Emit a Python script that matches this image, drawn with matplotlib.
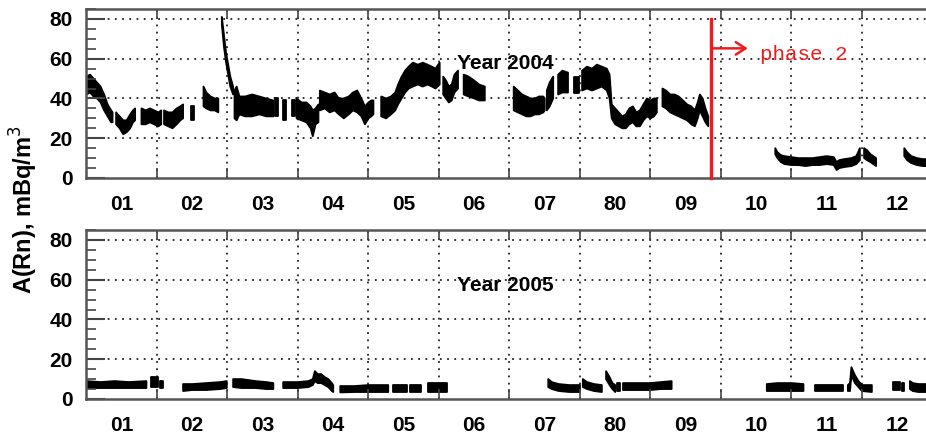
import numpy as np
import matplotlib
matplotlib.use("Agg")
import matplotlib.pyplot as plt
from matplotlib.ticker import MultipleLocator, FixedLocator

nan = np.nan

month_labels = ['01', '02', '03', '04', '05', '06', '07', '80', '09', '10', '11', '12']

# Radon activity envelopes (lower / upper edge of the hourly band), x in months,
# nan marks a gap in the record
months_2004 = [0.00, 0.05, 0.10, 0.15, 0.20, 0.25, 0.30, 0.35, 0.37, nan,
               0.42, 0.47, 0.52, 0.57, 0.62, 0.66, 0.69, nan,
               0.78, 0.84, 0.90, 0.96, 1.02, 1.06, nan,
               1.10, 1.16, 1.22, 1.28, 1.33, 1.37, nan,
               1.48, 1.52, nan,
               1.66, 1.70, 1.76, 1.82, 1.87, nan,
               1.92, 1.95, 1.98, 2.01, 2.04, 2.08, nan,
               2.10, 2.13, 2.17, 2.25, 2.35, 2.45, 2.55, 2.65, nan,
               2.68, 2.72, nan, 2.79, 2.83, nan, 2.91, 2.96, nan,
               2.98, 3.05, 3.12, 3.18, 3.21, 3.25, 3.29, nan,
               3.31, 3.38, 3.45, 3.52, 3.58, 3.65, 3.72, 3.78, 3.84, 3.90, 3.95, 4.00, 4.04, 4.07, nan,
               4.18, 4.25, 4.32, 4.38, 4.42, 4.47, 4.52, 4.57, 4.63, 4.70, 4.77, 4.84, 4.90, 4.95, 5.01, nan,
               5.06, 5.10, 5.14, 5.18, 5.22, 5.27, nan,
               5.35, 5.42, 5.50, 5.57, 5.65, nan,
               6.06, 6.12, 6.18, 6.24, 6.30, 6.36, 6.42, 6.48, 6.50, nan,
               6.53, 6.57, 6.62, nan,
               6.69, 6.75, 6.83, nan,
               6.92, 6.98, nan,
               7.03, 7.10, 7.17, 7.24, 7.31, 7.38, 7.42, 7.45, 7.50, 7.55, 7.60, 7.65, 7.70, 7.75,
               7.80, 7.85, 7.90, 7.95, 8.00, 8.05, 8.09, nan,
               8.17, 8.22, 8.28, 8.34, 8.40, 8.46, 8.52, 8.58, 8.63, 8.67, 8.70, 8.74, 8.78, 8.82, nan,
               9.77, 9.80, 9.85, 9.90, 10.0, 10.1, 10.2, 10.3, 10.4, 10.5, 10.6, 10.64, 10.68, 10.75,
               10.85, 10.92, 10.97, nan,
               11.03, 11.07, 11.12, 11.16, 11.20, nan,
               11.60, 11.64, 11.70, 11.78, 11.86, 11.94, 12.0]
low_2004 = [42, 43, 41, 40, 38, 34, 31, 28, 28, nan,
            27, 25, 22, 23, 25, 28, 29, nan,
            27, 27, 28, 27, 26, 27, nan,
            27, 26, 25, 27, 29, 30, nan,
            29, 29, nan,
            36, 35, 34, 34, 33, nan,
            77, 66, 58, 52, 46, 42, nan,
            30, 29, 32, 31, 31, 32, 31, 31, nan,
            31, 31, nan, 29, 29, nan, 31, 31, nan,
            30, 29, 28, 25, 21, 27, 28, nan,
            34, 35, 33, 34, 32, 30, 32, 34, 33, 31, 27, 30, 31, 32, nan,
            31, 30, 32, 34, 37, 40, 43, 45, 46, 47, 46, 47, 46, 45, 47, nan,
            42, 40, 38, 39, 43, 45, nan,
            42, 41, 40, 39, 39, nan,
            34, 33, 32, 31, 31, 32, 32, 33, 34, nan,
            34, 36, 40, nan,
            42, 43, 43, nan,
            43, 43, nan,
            44, 45, 44, 45, 46, 44, 40, 30, 27, 26, 25, 25, 27, 28,
            26, 26, 29, 31, 30, 31, 33, nan,
            36, 35, 33, 32, 31, 30, 29, 27, 26, 30, 34, 31, 28, 26, nan,
            12, 10, 8, 7, 6.5, 6.5, 6, 6.5, 6.5, 7, 6.5, 4, 5, 5.5,
            6, 7, 9, nan,
            10, 9, 8, 7, 6, nan,
            11, 9, 7.5, 6.5, 6, 6, 6]
high_2004 = [51, 52, 50, 48, 46, 42, 37, 34, 33, nan,
             33, 31, 29, 29, 32, 34, 35, nan,
             35, 34, 35, 34, 33, 34, nan,
             34, 33, 33, 35, 36, 37, nan,
             36, 36, nan,
             46, 43, 41, 40, 40, nan,
             81, 72, 63, 57, 51, 46, nan,
             44, 46, 41, 41, 42, 41, 40, 39, nan,
             40, 40, nan, 39, 39, nan, 39, 39, nan,
             40, 38, 38, 36, 34, 35, 37, nan,
             44, 43, 42, 43, 40, 40, 41, 43, 44, 40, 36, 38, 39, 39, nan,
             41, 40, 41, 43, 47, 51, 54, 56, 58, 57, 58, 57, 56, 55, 58, nan,
             51, 49, 46, 47, 52, 54, nan,
             52, 51, 49, 47, 46, nan,
             46, 44, 42, 41, 40, 40, 41, 41, 40, nan,
             44, 48, 51, nan,
             52, 54, 53, nan,
             51, 51, nan,
             54, 56, 55, 57, 56, 55, 52, 37, 35, 33, 31, 32, 35, 36,
             33, 34, 37, 40, 39, 40, 40, nan,
             45, 44, 42, 42, 41, 39, 37, 36, 34, 38, 42, 40, 35, 31, nan,
             15, 13, 11.5, 11, 10.5, 10, 10, 10, 10.5, 11, 10.5, 8, 9, 9.5,
             10, 11, 15, nan,
             15, 14, 12, 11, 10, nan,
             15, 13, 11, 10, 9.5, 9.5, 9.5]

months_2005 = [0.00, 0.20, 0.40, 0.60, 0.85, nan,
               0.92, 1.02, nan, 1.04, 1.08, nan,
               1.37, 1.50, 1.70, 1.90, 1.99, nan,
               2.08, 2.20, 2.40, 2.55, 2.65, nan,
               2.79, 3.00, 3.15, 3.21, 3.24, 3.28, 3.33, 3.38, 3.43, 3.48, 3.50, nan,
               3.60, 3.80, 4.00, 4.28, nan,
               4.35, 4.54, nan, 4.59, 4.75, nan, 4.85, 5.11, nan,
               6.55, 6.60, 6.70, 6.85, 7.00, nan,
               7.04, 7.10, 7.20, 7.31, nan,
               7.37, 7.42, 7.46, 7.50, nan,
               7.52, 7.57, nan,
               7.61, 7.80, 8.00, 8.15, 8.30, nan,
               9.65, 9.80, 10.00, 10.17, nan,
               10.33, 10.73, nan,
               10.80, 10.83, 10.85, 10.90, 10.95, 11.00, 11.14, nan,
               11.44, 11.54, nan, 11.57, 11.60, nan,
               11.68, 11.72, 11.80, 12.00]
low_2005 = [5.5, 5.5, 5.5, 5.5, 5.5, nan,
            6, 6, nan, 5.5, 5.5, nan,
            4, 4.5, 4.5, 5, 5.5, nan,
            6, 5.5, 5.5, 5, 5, nan,
            5.5, 5.5, 6, 7, 9, 8, 8, 7, 6, 4, 3.5, nan,
            3.3, 3.5, 3.5, 3.5, nan,
            3.5, 3.5, nan, 3.5, 3.5, nan, 3.5, 3.5, nan,
            6, 5, 4, 3.5, 3.5, nan,
            6, 5, 4, 3.5, nan,
            10, 7, 5, 3.5, nan,
            4, 4, nan,
            4.5, 4.5, 4.5, 5, 5, nan,
            4, 4, 4, 4, nan,
            4, 4, nan,
            4, 4, 12, 8, 6, 4, 3.5, nan,
            4.6, 4.6, nan, 4, 4, nan,
            5, 4, 3.5, 3.5]
high_2005 = [9, 8.5, 9, 8.5, 9, nan,
             11, 11, nan, 9, 9, nan,
             7.5, 7.5, 8, 8.5, 9, nan,
             10, 10, 9, 8.5, 8, nan,
             8.5, 8.5, 9, 10, 14, 12.5, 12.5, 11, 10, 8, 7, nan,
             6.5, 6.5, 7, 7, nan,
             7, 7, nan, 7, 7, nan, 8, 8, nan,
             10, 8.5, 7.5, 7, 7, nan,
             10, 8.5, 7.5, 7, nan,
             14, 11, 8, 7, nan,
             8, 8, nan,
             8, 8, 8, 8.5, 9, nan,
             7.5, 8, 8, 7.5, nan,
             6.8, 6.8, nan,
             7, 8, 16, 12, 9, 7, 7, nan,
             8.3, 8.3, nan, 8, 8, nan,
             9, 8, 7.5, 7.5]

phase2_start = 8.86

fig = plt.figure(figsize=(9.26, 4.37), dpi=100)
ax1 = fig.add_axes([0.0934, 0.5927, 0.9136, 0.3867])
ax2 = fig.add_axes([0.0934, 0.0870, 0.9136, 0.3867])

grid_kw = dict(color='#222222', linestyle=(0, (1, 3)), linewidth=1.3)

for ax, x, lo, hi in [(ax1, months_2004, low_2004, high_2004),
                      (ax2, months_2005, low_2005, high_2005)]:
    ax.fill_between(x, lo, hi, color='black', edgecolor='black', linewidth=1.3)
    ax.set_xlim(0, 12)
    ax.set_ylim(0, 85)

    ax.xaxis.set_major_locator(FixedLocator(np.arange(1, 12)))
    ax.xaxis.set_minor_locator(FixedLocator(np.arange(12) + 0.5))
    ax.xaxis.set_major_formatter(plt.NullFormatter())
    ax.xaxis.set_minor_formatter(plt.FixedFormatter(month_labels))
    ax.tick_params(axis='x', which='major', direction='in', length=7, width=1.2,
                   color='#444444', top=True, bottom=True)
    ax.tick_params(axis='x', which='minor', length=0, pad=12, labelsize=15)

    ax.yaxis.set_major_locator(MultipleLocator(20))
    ax.yaxis.set_minor_locator(MultipleLocator(5))
    ax.tick_params(axis='y', which='major', direction='in', length=14, width=1.5,
                   color='#444444', pad=10, labelsize=15)
    ax.tick_params(axis='y', which='minor', direction='in', length=7, width=1.2,
                   color='#444444')

    for lab in ax.get_xticklabels(minor=True) + ax.get_yticklabels():
        lab.set_fontweight('bold')
        lab.set_family('Liberation Sans')

    for v in np.arange(1, 12):
        ax.axvline(v, **grid_kw, zorder=0)
    for v in [20, 40, 60, 80]:
        ax.axhline(v, **grid_kw, zorder=0)

    for sp in ax.spines.values():
        sp.set_color('#555555')
        sp.set_linewidth(1.8)

ax1.text(5.26, 57.5, 'Year 2004', fontsize=15, family='Liberation Sans',
         fontweight='bold', va='center', ha='left')
ax2.text(5.26, 57, 'Year 2005', fontsize=15, family='Liberation Sans',
         fontweight='bold', va='center', ha='left')

# start of phase 2
ax1.plot([phase2_start, phase2_start], [0, 80], color='#ee1c1c', linewidth=2.4,
         clip_on=False, zorder=5)
ax1.annotate('', xy=(9.38, 65.2), xytext=(phase2_start, 65.2),
             arrowprops=dict(arrowstyle='->,head_length=0.7,head_width=0.45',
                             color='#ee1c1c', lw=1.8, shrinkA=0, shrinkB=0))
ax1.text(9.55, 59.5, 'phase 2', color='#ee1c1c', fontsize=15,
         family='Liberation Mono', va='baseline', ha='left')

fig.text(0.026, 0.52, 'A(Rn), mBq/m$^3$', rotation=90, fontsize=17,
         fontweight='bold', family='Liberation Sans', va='center', ha='center')

fig.savefig('out.png', dpi=100)
